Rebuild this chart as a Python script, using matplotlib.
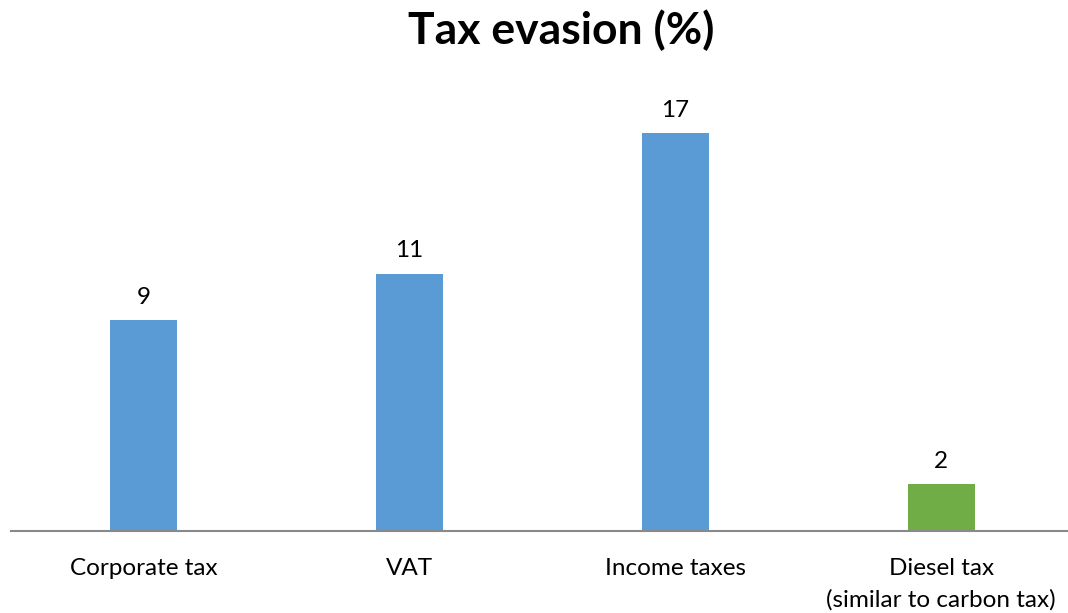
import matplotlib
matplotlib.use("Agg")
import matplotlib.pyplot as plt

categories = ["Corporate tax", "VAT", "Income taxes", "Diesel tax\n(similar to carbon tax)"]
values = [9, 11, 17, 2]
bar_colors = ["#5B9BD5", "#5B9BD5", "#5B9BD5", "#70AD47"]
title = "Tax evasion (%)"

plt.rcParams['font.family'] = ['Lato', 'DejaVu Sans']

W, H = 1068, 613
fig = plt.figure(figsize=(W / 100, H / 100), dpi=100)
ax_left, ax_right, ax_bottom, ax_top = 11, 1074, 531, 90
ax = fig.add_axes([ax_left / W, (H - ax_bottom) / H, (ax_right - ax_left) / W, (ax_bottom - ax_top) / H])

x = range(len(categories))
bars = ax.bar(x, values, width=0.252, color=bar_colors)
ax.set_xlim(-0.5, len(categories) - 0.5)
ax.set_ylim(0, 18.85)

for xi, v in zip(x, values):
    ax.annotate(str(v), (xi, v), xytext=(0, 9), textcoords="offset points",
                ha="center", va="bottom", fontsize=17.5)

ax.set_xticks(list(x))
ax.set_xticklabels(categories, fontsize=17.5, linespacing=1.55, va="top")
ax.tick_params(axis="x", length=0, pad=19.5)
ax.set_yticks([])
for s in ["top", "right", "left"]:
    ax.spines[s].set_visible(False)
ax.spines["bottom"].set_color("#898989")
ax.spines["bottom"].set_linewidth(1.5)

fig.text(0.5 + 27 / W, 1 - 30 / H, title, ha="center", va="center", fontsize=32, fontweight="bold")

fig.savefig("out.png", dpi=100)
